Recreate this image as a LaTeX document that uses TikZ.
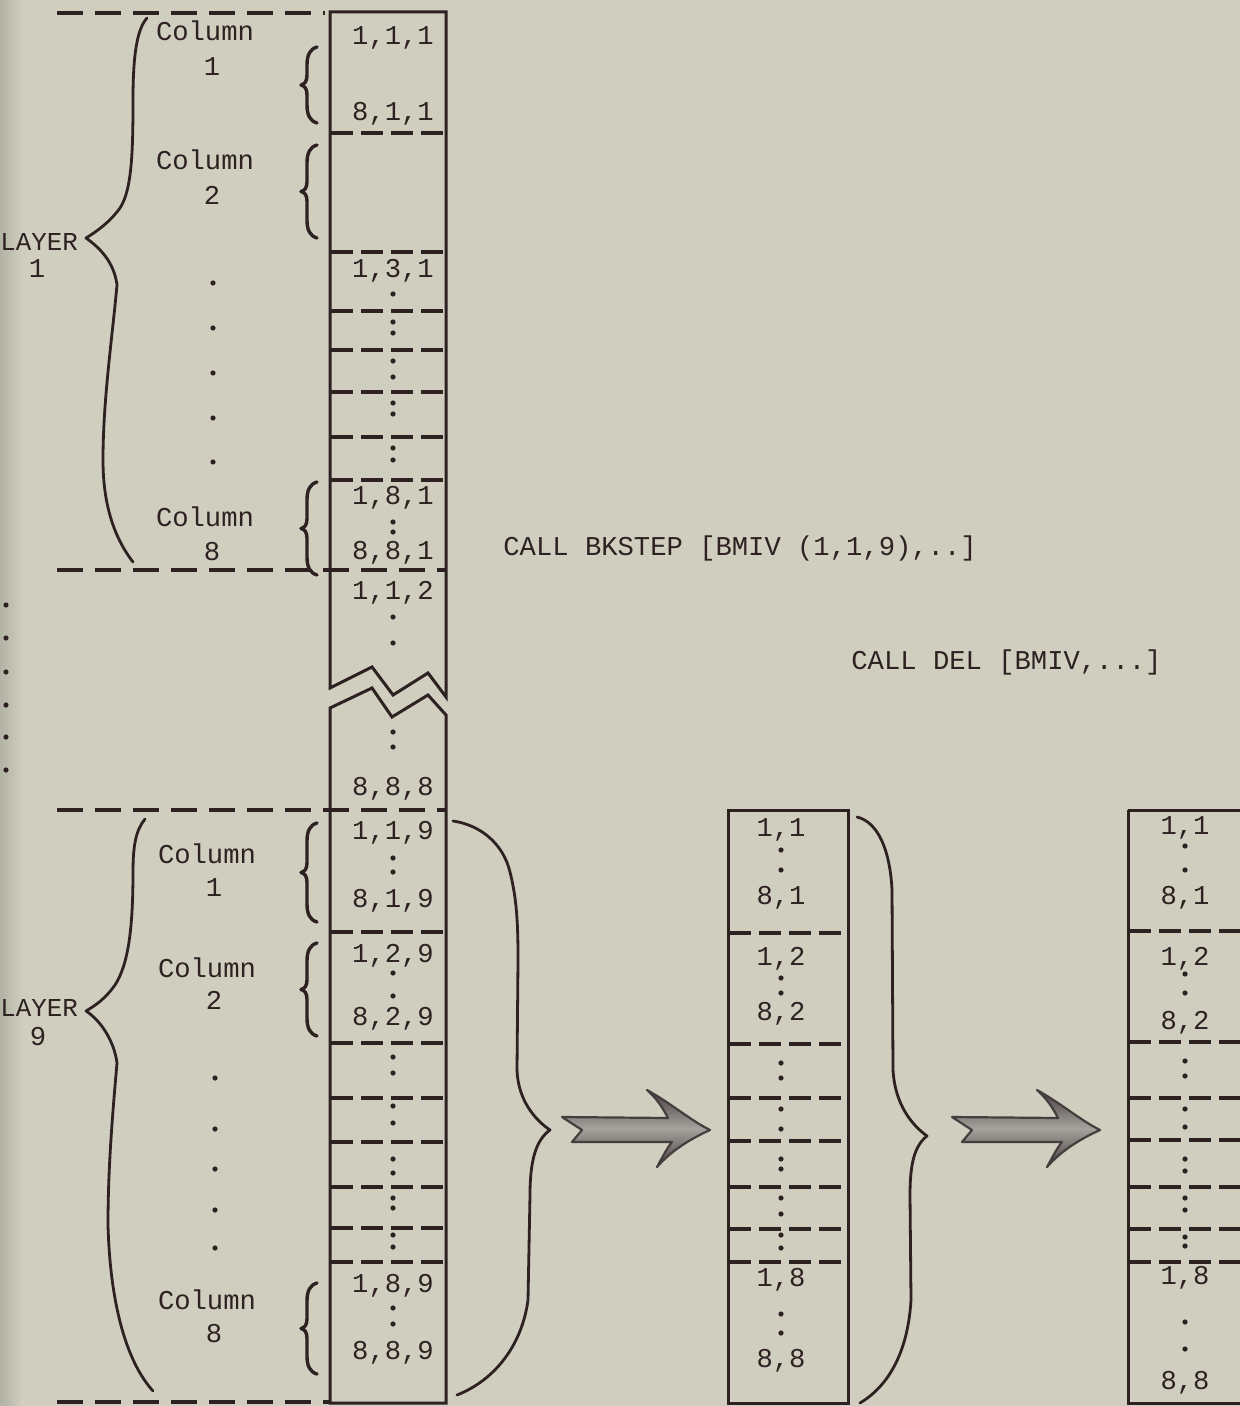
\documentclass[tikz,border=0pt]{standalone}
\usepackage{fontspec}
\newfontfamily\tw{Liberation Mono}
\usetikzlibrary{calc}
\definecolor{bg}{RGB}{207,206,191}
\definecolor{bgdark}{RGB}{178,178,165}
\definecolor{ink}{RGB}{45,33,33}
\definecolor{agray}{RGB}{165,163,157}
\definecolor{adark}{RGB}{70,62,62}
\newcommand{\sbrace}[3]{% right x, top y, bottom y
  \pgfmathsetmacro\bm{(#2+#3)/2}
  \draw[brc, line width=1.7pt] (#1,#2) .. controls (#1-7,#2+2) and (#1-10,#2+8) .. (#1-10,#2+18)
    -- (#1-10,\bm-10) .. controls (#1-10,\bm-4) and (#1-12,\bm-1) .. (#1-16,\bm)
    .. controls (#1-12,\bm+1) and (#1-10,\bm+4) .. (#1-10,\bm+10)
    -- (#1-10,#3-18) .. controls (#1-10,#3-8) and (#1-7,#3-2) .. (#1,#3);}
\newcommand{\fatarrow}[2]{% shift x, name
  \begin{scope}[shift={(#1,0)}]
  \coordinate (#2) at (636,1130);
  \shadedraw[top color=adark, bottom color=adark, middle color=agray,
             draw=adark, line width=1.1pt, line join=round]
    (562,1117) -- (668,1118) .. controls (662,1106) and (655,1097) .. (647,1090)
    .. controls (672,1104) and (690,1120) .. (710,1130)
    .. controls (688,1140) and (670,1152) .. (657,1167)
    .. controls (662,1158) and (667,1148) .. (672,1142)
    -- (572,1142) -- (582,1130) -- cycle;
  \end{scope}}
\begin{document}
\begin{tikzpicture}[x=0.5pt,y=-0.5pt,
  txt/.style={font=\tw\fontsize{13.6}{16}\selectfont, text=ink, inner sep=0pt,
              text height=7.7pt, text depth=0pt},
  lay/.style={txt, font=\tw\fontsize{12.9}{16}\selectfont},
  box/.style={draw=ink, line width=1.5pt, line join=miter},
  div/.style={draw=ink, line width=1.6pt, dash pattern=on 11pt off 4pt},
  ldiv/.style={draw=ink, line width=1.6pt, dash pattern=on 13pt off 6pt},
  brc/.style={draw=ink, line width=1.4pt, line cap=round, line join=round}]
\fill[bg] (0,0) rectangle (1240,1406);
\shade[left color=bgdark, right color=bg] (0,0) rectangle (22,1406);
\useasboundingbox (0,0) rectangle (1240,1406);

% ---------- main (left) column ----------
\draw[box] (446,697) -- (428,673) -- (393,695) -- (372,667) -- (330,688)
  -- (330,12) -- (446,12) -- cycle;
\draw[box] (330,708) -- (372,688) -- (392,717) -- (428,695) -- (446,715)
  -- (446,1403) -- (330,1403) -- cycle;
\foreach \y in {133,252,311,350,392,437,480,932,1043,1098,1142,1187,1228,1262}
  \draw[div] (331,\y) -- (446,\y);
\draw[ldiv] (57,13) -- (325,13);
\draw[ldiv] (57,570) -- (446,570);
\draw[ldiv] (57,810) -- (446,810);
\draw[ldiv, line width=2.2pt] (57,1402) -- (330,1402);

\node[txt] (a111) at (393,37)  {1,1,1};
\node[txt] (a811) at (393,113) {8,1,1};
\node[txt] (a131) at (393,270) {1,3,1};
\node[txt] (a181) at (393,497) {1,8,1};
\node[txt] (a881) at (393,552) {8,8,1};
\node[txt] (a112) at (393,592) {1,1,2};
\node[txt] (a888) at (393,788) {8,8,8};
\node[txt] (a119) at (393,832) {1,1,9};
\node[txt] (a819) at (393,900) {8,1,9};
\node[txt] (a129) at (393,955) {1,2,9};
\node[txt] (a829) at (393,1018) {8,2,9};
\node[txt] (a189) at (393,1285) {1,8,9};
\node[txt] (a889) at (393,1352) {8,8,9};
\foreach \y in {294,322,333,361,377,403,414,448,460,522,532,617,643,732,747,
                858,872,973,996,1057,1073,1106,1123,1159,1173,1198,1208,1235,1247,1308,1324}
  \fill[ink] (393,\y) circle[radius=1.3pt];

% ---------- left labels ----------
\node[txt] (c1a) at (205,33)  {Column};
\node[txt] (c1b) at (212,68)  {1};
\node[txt] (c2a) at (205,162) {Column};
\node[txt] (c2b) at (212,197) {2};
\node[txt] (c8a) at (205,519) {Column};
\node[txt] (c8b) at (212,553) {8};
\foreach \y in {283,328,373,418,462}
  \fill[ink] (213,\y) circle[radius=1.3pt];
\node[txt] (d1a) at (207,856)  {Column};
\node[txt] (d1b) at (214,889)  {1};
\node[txt] (d2a) at (207,970)  {Column};
\node[txt] (d2b) at (214,1002) {2};
\node[txt] (d8a) at (207,1302) {Column};
\node[txt] (d8b) at (214,1335) {8};
\foreach \y in {1078,1129,1169,1210,1248}
  \fill[ink] (215,\y) circle[radius=1.3pt];
\node[lay, anchor=west] (L1a) at (0,243) {LAYER};
\node[txt] (L1b) at (37,270) {1};
\node[lay, anchor=west] (L9a) at (0,1009) {LAYER};
\node[txt] (L9b) at (38,1038) {9};
\foreach \y in {605,638,672,705,737,770}
  \fill[ink] (6,\y) circle[radius=1.3pt];

% small braces
\sbrace{317}{47}{123}
\sbrace{317}{145}{238}
\sbrace{317}{482}{575}
\sbrace{317}{823}{922}
\sbrace{317}{943}{1036}
\sbrace{317}{1283}{1374}

% big braces
\draw[brc] (147,18) .. controls (136,30) and (133,60) .. (133,100)
  .. controls (133,150) and (132,190) .. (120,208)
  .. controls (110,222) and (96,232) .. (86,238)
  .. controls (100,248) and (114,262) .. (117,285)
  .. controls (112,340) and (103,400) .. (103,460)
  .. controls (103,500) and (112,535) .. (133,562);
\draw[brc] (145,819) .. controls (136,830) and (133,845) .. (133,872)
  .. controls (133,930) and (128,965) .. (115,985)
  .. controls (105,999) and (96,1005) .. (86,1011)
  .. controls (100,1020) and (114,1040) .. (117,1063)
  .. controls (112,1120) and (108,1170) .. (108,1225)
  .. controls (110,1300) and (125,1360) .. (153,1391);
% right braces
\draw[brc] (453,821) .. controls (480,825) and (503,843) .. (510,872)
  .. controls (517,900) and (518,925) .. (518,960)
  -- (517,1070)
  .. controls (518,1100) and (535,1120) .. (550,1130)
  .. controls (536,1140) and (530,1160) .. (530,1195)
  -- (528,1300)
  .. controls (522,1345) and (495,1380) .. (457,1395);
\draw[brc] (857,817) .. controls (878,822) and (890,850) .. (892,890)
  -- (893,1070)
  .. controls (895,1105) and (912,1125) .. (927,1136)
  .. controls (914,1146) and (910,1165) .. (910,1195)
  -- (911,1300)
  .. controls (908,1350) and (890,1385) .. (860,1403);

% fat arrows
\fatarrow{0}{arrA}
\fatarrow{390}{arrB}

% ---------- second column ----------
\draw[box] (728,810) rectangle (848,1403);
\foreach \y in {933,1044,1098,1141,1187,1229,1262}
  \draw[div] (729,\y) -- (848,\y);
\node[txt] (b11) at (781,829)  {1,1};
\node[txt] (b81) at (781,897)  {8,1};
\node[txt] (b12) at (781,958)  {1,2};
\node[txt] (b82) at (781,1013) {8,2};
\node[txt] (b18) at (781,1279) {1,8};
\node[txt] (b88) at (781,1360) {8,8};
\foreach \y in {850,870,978,993,1063,1078,1109,1129,1159,1169,1198,1214,1235,1248,1314,1333}
  \fill[ink] (781,\y) circle[radius=1.3pt];

% ---------- third column ----------
\draw[box] (1128,810) -- (1128,1403) -- (1250,1403);
\draw[box] (1128,810) -- (1250,810);
\foreach \y in {931,1042,1098,1140,1187,1229,1262}
  \draw[div] (1129,\y) -- (1240,\y);
\node[txt] (e11) at (1185,827)  {1,1};
\node[txt] (e81) at (1185,897)  {8,1};
\node[txt] (e12) at (1185,958)  {1,2};
\node[txt] (e82) at (1185,1022) {8,2};
\node[txt] (e18) at (1185,1277) {1,8};
\node[txt] (e88) at (1185,1382) {8,8};
\foreach \y in {846,870,974,993,1061,1076,1109,1127,1159,1171,1198,1210,1237,1246,1322,1349}
  \fill[ink] (1185,\y) circle[radius=1.3pt];

% ---------- calls ----------
\node[txt, anchor=west] (call1) at (503,548) {CALL BKSTEP [BMIV (1,1,9),..]};
\node[txt, anchor=west] (call2) at (851,662) {CALL DEL [BMIV,...]};
\end{tikzpicture}
\end{document}
